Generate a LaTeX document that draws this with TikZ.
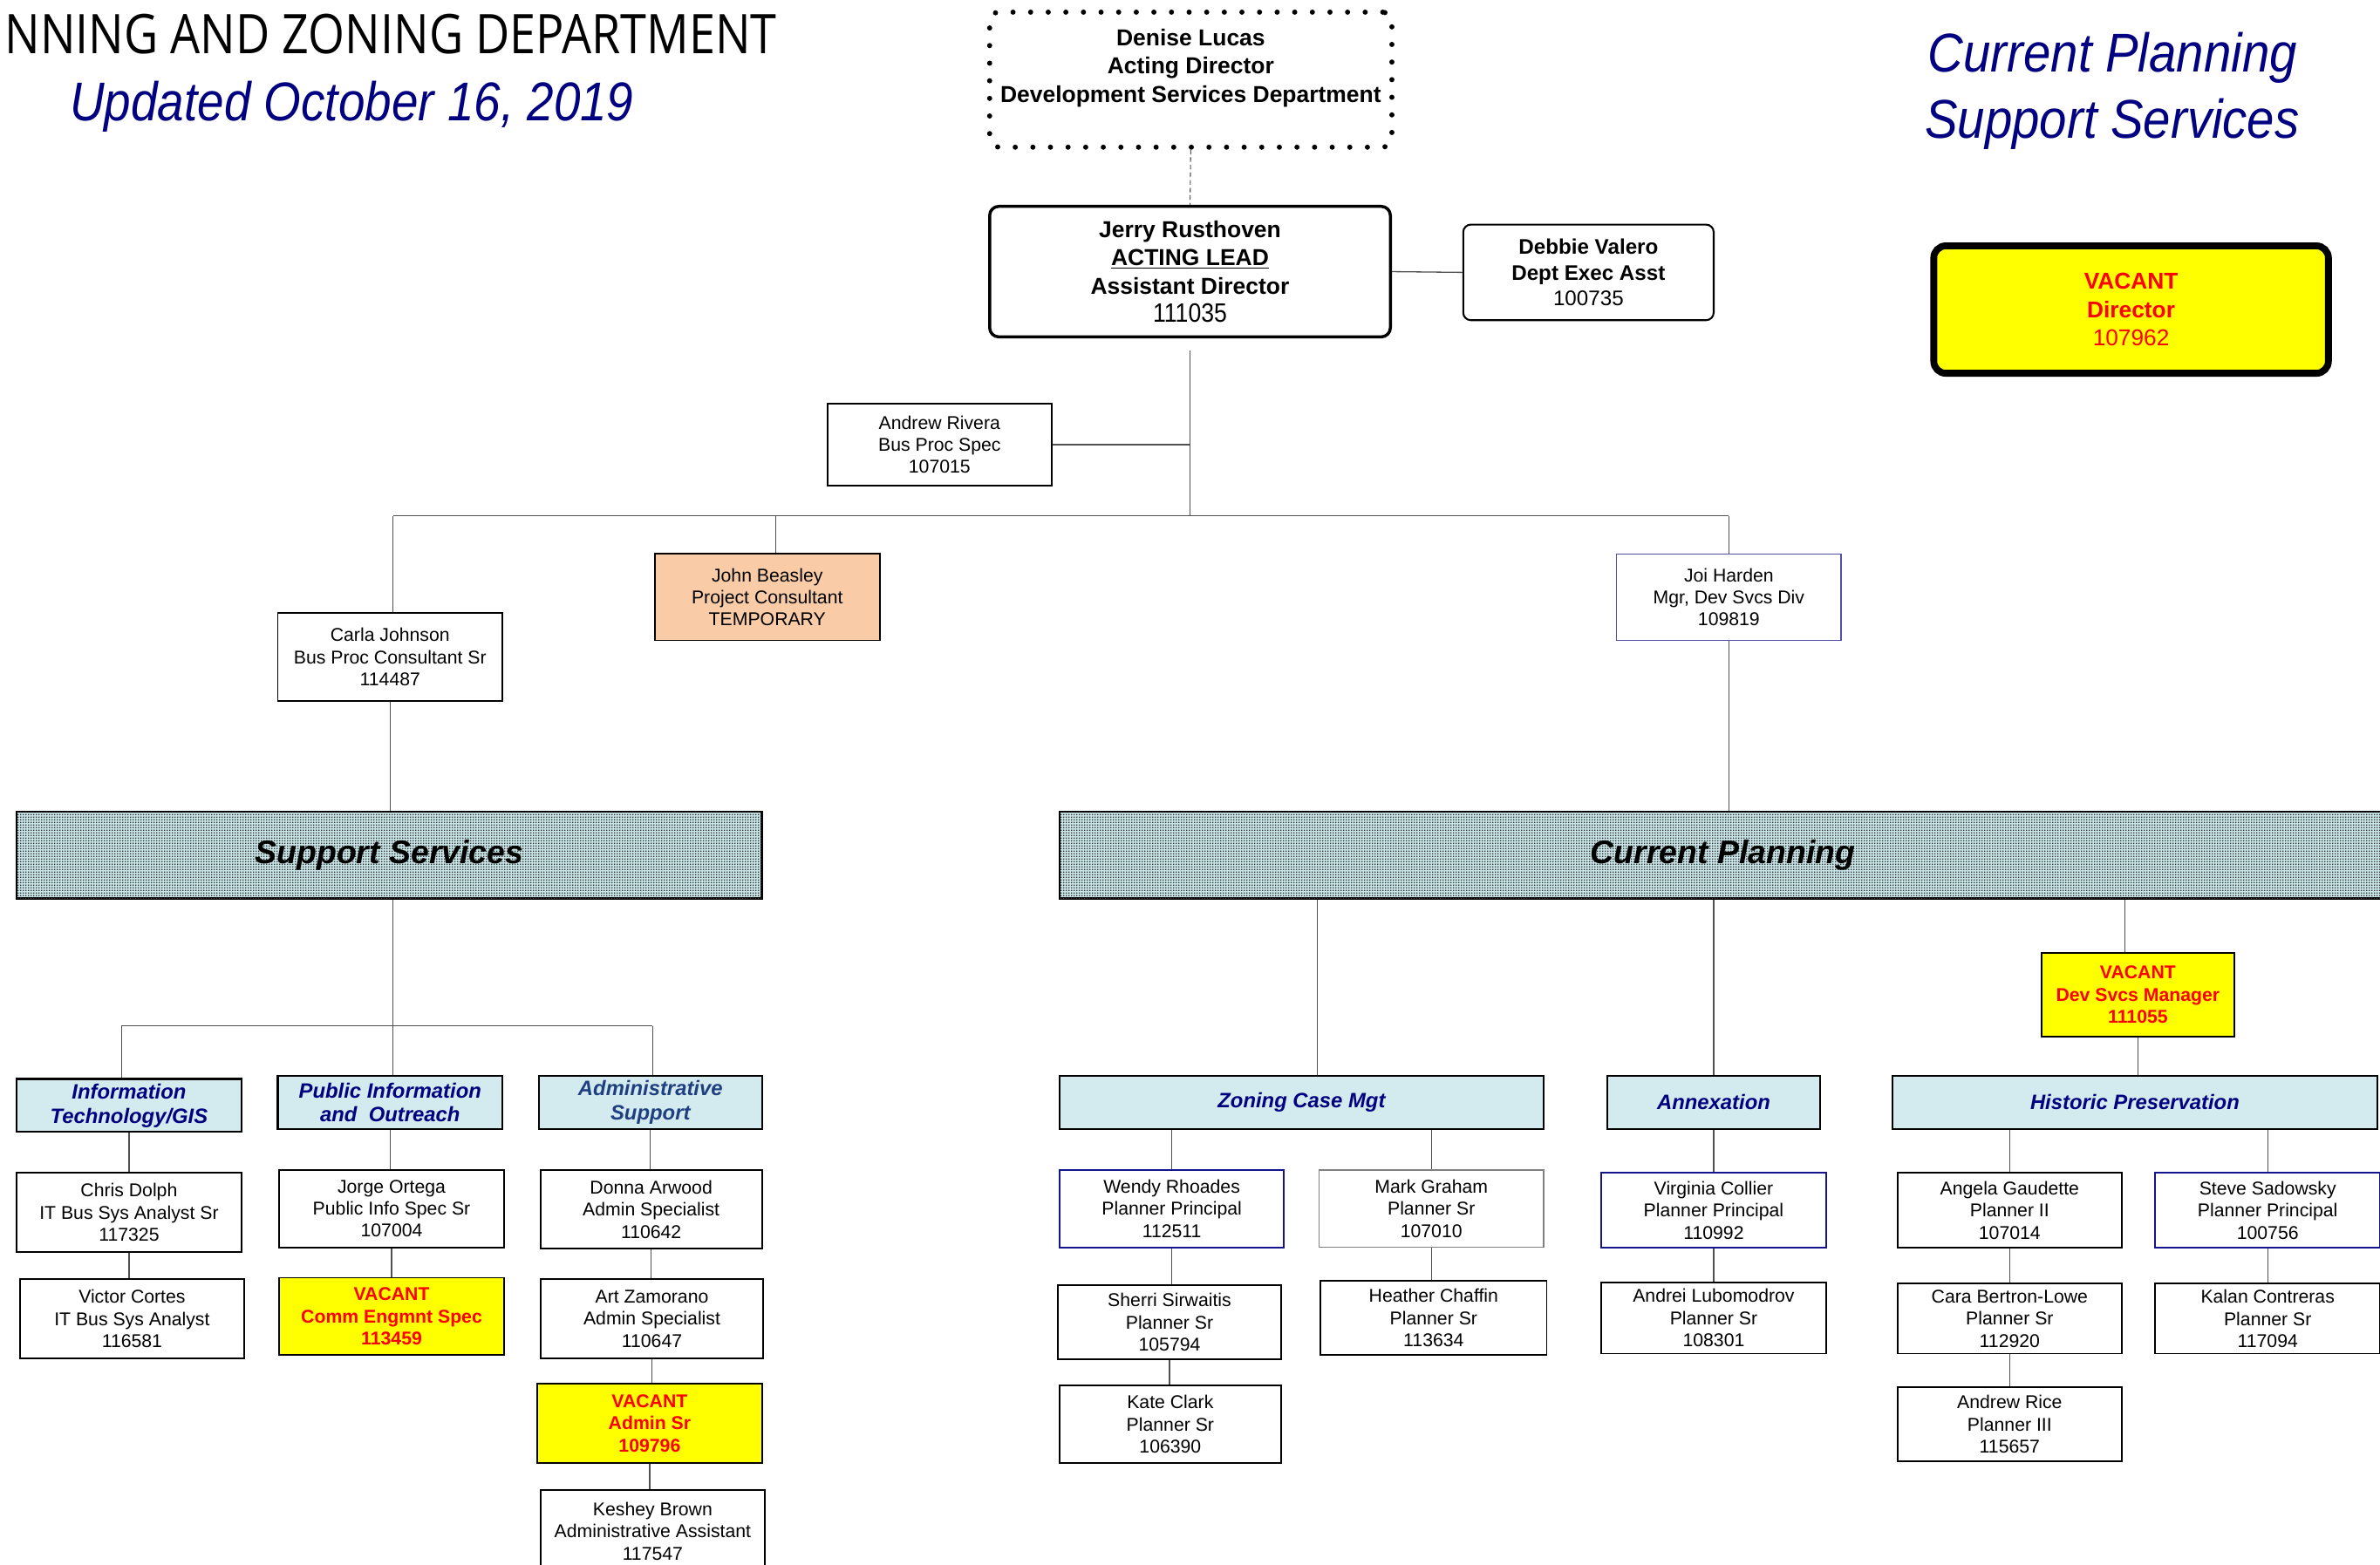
\documentclass[tikz,border=0pt]{standalone}
\usepackage{fontspec}
\setmainfont{Liberation Sans}
\newfontfamily\condsans[FakeStretch=0.86]{Open Sans}
\newfontfamily\narrowsans[FakeStretch=0.875]{Liberation Sans}
\newfontfamily\titlesans[FakeStretch=0.9]{Liberation Sans}
\usetikzlibrary{patterns}
\definecolor{navy}{RGB}{0,0,128}
\definecolor{admblue}{RGB}{31,63,128}
\definecolor{boxnavy}{RGB}{20,20,140}
\definecolor{joiblue}{RGB}{80,80,170}
\definecolor{linegray}{RGB}{80,80,80}
\definecolor{headblue}{RGB}{211,235,239}
\definecolor{vacyellow}{RGB}{255,255,0}
\definecolor{peach}{RGB}{249,203,166}
\definecolor{bannerlight}{RGB}{200,228,230}
\definecolor{bannerdark}{RGB}{45,45,45}
\pgfdeclarepatternformonly{finedots}{\pgfqpoint{0pt}{0pt}}{\pgfqpoint{1.7pt}{1.7pt}}{\pgfqpoint{1.7pt}{1.7pt}}{\pgfpathrectangle{\pgfqpoint{0pt}{0pt}}{\pgfqpoint{0.85pt}{0.85pt}}\pgfusepath{fill}}
\tikzset{
  conn/.style={draw=linegray, line width=0.75pt},
  sz/.style 2 args={minimum width=#1pt, minimum height=#2pt},
  pbox/.style={draw=black, line width=1.1pt, inner sep=1pt, align=center, fill=white, font=\fontsize{12.2}{14.6}\selectfont},
  bluebox/.style={pbox, draw=boxnavy, line width=1.2pt},
  graybox/.style={pbox, draw=gray, line width=0.8pt},
  vacbox/.style={pbox, fill=vacyellow, text=red, font=\fontsize{12.2}{14.6}\selectfont\bfseries},
  subhead/.style={draw=black, line width=1.2pt, fill=headblue, text=navy, align=center, inner sep=1pt, font=\fontsize{13.7}{16}\selectfont\bfseries\itshape},
  banner/.style={draw=black, line width=1.5pt, fill=bannerlight, postaction={pattern=finedots, pattern color=bannerdark}, inner sep=0pt, font=\fontsize{21.5}{24}\selectfont\bfseries\itshape},
  topbox/.style={draw=black, align=center, inner sep=1pt, fill=white},
  dotborder/.style={draw=black, line width=3.4pt, dash pattern=on 0pt off 11.6pt, line cap=round, rounded corners=6pt, align=center, inner sep=1pt, font=\fontsize{15.2}{18.5}\selectfont\bfseries},
}
\begin{document}
\begin{tikzpicture}[x=1pt,y=-1pt]
\useasboundingbox (0,0) rectangle (1568,1030.8);
\clip (0,0) rectangle (1568,1030.8);
\fill[white] (0,0) rectangle (1568,1030.8);

% titles
\node[anchor=base west, inner sep=0pt, font=\fontsize{36}{40}\selectfont\condsans] (ttl) at (3,35.5) {NNING AND ZONING DEPARTMENT};
\node[anchor=base west, inner sep=0pt, text=navy, font=\fontsize{36}{40}\selectfont\narrowsans\itshape] (upd) at (46,79.6) {Updated October 16, 2019};
\node[anchor=base west, inner sep=0pt, text=navy, font=\fontsize{36}{40}\selectfont\titlesans\itshape] (cpt) at (1270,47.2) {Current Planning};
\node[anchor=base west, inner sep=0pt, text=navy, font=\fontsize{36}{40}\selectfont\titlesans\itshape] (sst) at (1268,91.3) {Support Services};

% top level
\node[dotborder, sz={265}{89}] (denise) at (784.5,52.5) {Denise Lucas\\Acting Director\\Development Services Department\\\mbox{}};
\node[topbox, line width=2pt, rounded corners=6pt, sz={264}{86}, font=\fontsize{15.2}{18.7}\selectfont\bfseries] (jerry) at (784,179) {Jerry Rusthoven\\\underline{ACTING LEAD}\\Assistant Director\\{\fontsize{17.5}{18.7}\selectfont\mdseries\narrowsans 111035}};
\node[topbox, line width=1.2pt, rounded corners=5pt, sz={165}{63}, font=\fontsize{13.9}{17}\selectfont\bfseries] (debbie) at (1046.5,179.5) {Debbie Valero\\Dept Exec Asst\\{\mdseries 100735}};
\node[topbox, line width=4.5pt, rounded corners=8pt, fill=vacyellow, text=red, sz={260}{84}, font=\fontsize{15.1}{18.5}\selectfont\bfseries] (vacdir) at (1404,204) {VACANT\\Director\\{\mdseries 107962}};

\draw[draw=linegray, line width=0.6pt, dash pattern=on 3pt off 2pt] (denise.south) -- (jerry.north);
\draw[conn] (jerry.east) -- (debbie.west);

\node[pbox, sz={148}{54}] (andrew) at (619,293) {Andrew Rivera\\Bus Proc Spec\\107015};
\node[pbox, sz={148}{58}] (carla) at (257,433) {Carla Johnson\\Bus Proc Consultant Sr\\114487};
\node[pbox, fill=peach, sz={148}{57}] (john) at (505.5,393.5) {John Beasley\\Project Consultant\\TEMPORARY};
\node[pbox, draw=joiblue, line width=0.8pt, sz={148}{57}] (joi) at (1139,393.5) {Joi Harden\\Mgr, Dev Svcs Div\\109819};

\coordinate (trunkTop) at (784,231);
\coordinate (trunkBot) at (784,340);
\coordinate (busL) at (259,340);
\coordinate (busR) at (1139,340);
\coordinate (johnX) at (511,340);
\draw[conn] (trunkTop) -- (trunkBot);
\draw[conn] (andrew.east) -- (andrew.east -| trunkTop);
\draw[conn] (busL) -- (busR);
\draw[conn] (busL) -- (busL |- carla.north);
\draw[conn] (johnX) -- (johnX |- john.north);
\draw[conn] (busR) -- (busR |- joi.north);

% banners
\node[banner, sz={491}{57}] (supp) at (256.5,563.5) {Support Services};
\node[banner, sz={874}{57}] (curr) at (1135,563.5) {Current Planning};
\draw[conn] (carla.south) -- (carla.south |- supp.north);
\draw[conn] (joi.south) -- (joi.south |- curr.north);

% support services subtree
\node[subhead, sz={148}{35}] (it) at (85,728.5) {Information\\Technology/GIS};
\node[subhead, sz={148}{35}] (pio) at (257,726.5) {Public Information\\and\ \ Outreach};
\node[subhead, text=admblue, sz={147}{35}] (adm) at (428.5,726.5) {Administrative\\Support};

\coordinate (sJ) at (259,676);
\coordinate (sL) at (80,676);
\coordinate (sR) at (430,676);
\draw[conn] (sJ |- supp.south) -- (sJ);
\draw[conn] (sL) -- (sR);
\draw[conn] (sL) -- (sL |- it.north);
\draw[conn] (sJ) -- (sJ |- pio.north);
\draw[conn] (sR) -- (sR |- adm.north);

\node[pbox, sz={148}{52}] (chris) at (85,799) {Chris Dolph\\IT Bus Sys Analyst Sr\\117325};
\node[pbox, sz={148}{52}] (victor) at (87,869) {Victor Cortes\\IT Bus Sys Analyst\\116581};
\node[pbox, sz={148}{51}] (jorge) at (258,796.5) {Jorge Ortega\\Public Info Spec Sr\\107004};
\node[vacbox, sz={148}{51}] (vaccomm) at (258,867.5) {VACANT\\Comm Engmnt Spec\\113459};
\node[pbox, sz={146}{52}] (donna) at (429,797) {Donna Arwood\\Admin Specialist\\110642};
\node[pbox, sz={147}{52}] (art) at (429.5,869) {Art Zamorano\\Admin Specialist\\110647};
\node[vacbox, sz={148}{52}] (vacadm) at (428,938) {VACANT\\Admin Sr\\109796};
\node[pbox, sz={148}{54}] (keshey) at (430,1009) {Keshey Brown\\Administrative Assistant\\117547};

\draw[conn] (it.south) -- (it.south |- chris.north);
\draw[conn] (chris.south) -- (chris.south |- victor.north);
\draw[conn] (pio.south) -- (pio.south |- jorge.north);
\draw[conn] (jorge.south) -- (jorge.south |- vaccomm.north);
\draw[conn] (adm.south) -- (adm.south |- donna.north);
\draw[conn] (donna.south) -- (donna.south |- art.north);
\draw[conn] (art.south) -- (art.south |- vacadm.north);
\draw[conn] (vacadm.south) -- (vacadm.south |- keshey.north);

% current planning subtree
\node[vacbox, sz={127}{55}] (vacdsm) at (1408.5,655.5) {VACANT\\Dev Svcs Manager\\111055};
\node[subhead, sz={319}{35}] (zcm) at (857.5,726.5) {Zoning Case Mgt};
\node[subhead, sz={140}{35}] (anx) at (1129,726.5) {Annexation};
\node[subhead, sz={319}{35}] (hp) at (1406.5,726.5) {Historic Preservation};

\coordinate (cz) at (868,650);
\coordinate (cv) at (1400,650);
\draw[conn] (cz |- curr.south) -- (cz |- zcm.north);
\draw[conn] (anx.north |- curr.south) -- (anx.north);
\draw[conn] (cv |- curr.south) -- (cv |- vacdsm.north);
\draw[conn] (vacdsm.south) -- (vacdsm.south |- hp.north);

\node[bluebox, sz={148}{51}] (wendy) at (772,796.5) {Wendy Rhoades\\Planner Principal\\112511};
\node[pbox, sz={147}{49}] (sherri) at (770.5,871.5) {Sherri Sirwaitis\\Planner Sr\\105794};
\node[pbox, sz={146}{51}] (kate) at (771,938.5) {Kate Clark\\Planner Sr\\106390};
\node[graybox, sz={148}{51}] (mark) at (943,796.5) {Mark Graham\\Planner Sr\\107010};
\node[pbox, sz={149}{49}] (heather) at (944.5,868.5) {Heather Chaffin\\Planner Sr\\113634};
\node[bluebox, sz={148}{49}] (virginia) at (1129,797.5) {Virginia Collier\\Planner Principal\\110992};
\node[pbox, sz={148}{47}] (andrei) at (1129,868.5) {Andrei Lubomodrov\\Planner Sr\\108301};
\node[pbox, sz={148}{49}] (angela) at (1324,797.5) {Angela Gaudette\\Planner II\\107014};
\node[pbox, sz={148}{46}] (cara) at (1324,869) {Cara Bertron-Lowe\\Planner Sr\\112920};
\node[pbox, sz={148}{49}] (rice) at (1324,938.5) {Andrew Rice\\Planner III\\115657};
\node[bluebox, sz={148}{49}] (steve) at (1494,797.5) {Steve Sadowsky\\Planner Principal\\100756};
\node[pbox, sz={148}{46}] (kalan) at (1494,869) {Kalan Contreras\\Planner Sr\\117094};

\draw[conn] (wendy.north |- zcm.south) -- (wendy.north);
\draw[conn] (mark.north |- zcm.south) -- (mark.north);
\draw[conn] (wendy.south) -- (wendy.south |- sherri.north);
\draw[conn] (sherri.south) -- (sherri.south |- kate.north);
\draw[conn] (mark.south) -- (mark.south |- heather.north);
\draw[conn] (anx.south) -- (anx.south |- virginia.north);
\draw[conn] (virginia.south) -- (virginia.south |- andrei.north);
\draw[conn] (angela.north |- hp.south) -- (angela.north);
\draw[conn] (steve.north |- hp.south) -- (steve.north);
\draw[conn] (angela.south) -- (angela.south |- cara.north);
\draw[conn] (cara.south) -- (cara.south |- rice.north);
\draw[conn] (steve.south) -- (steve.south |- kalan.north);
\end{tikzpicture}
\end{document}
